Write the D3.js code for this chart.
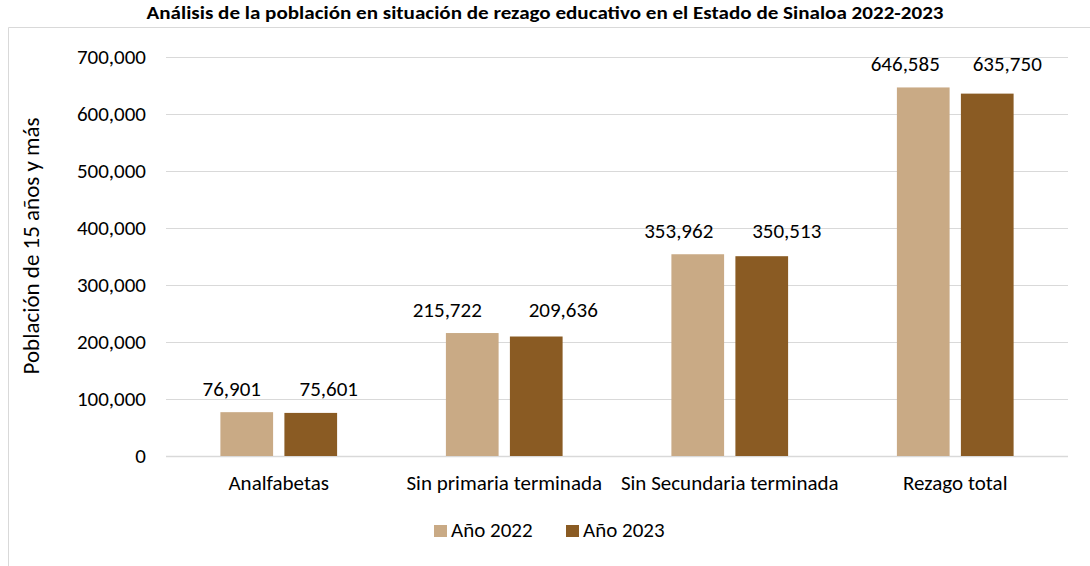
<!DOCTYPE html>
<html>
<head>
<meta charset="utf-8">
<script src="https://cdn.jsdelivr.net/npm/d3@7"></script>
<style>
  body { margin: 0; background: #fff; }
  svg { font-family: Carlito, Calibri, Lato, sans-serif; }
</style>
</head>
<body>
<div id="chart"></div>
<script>
const categories = ["Analfabetas", "Sin primaria terminada", "Sin Secundaria terminada", "Rezago total"];
const series = ["Año 2022", "Año 2023"];
const values2022 = [76901, 215722, 353962, 646585];
const values2023 = [75601, 209636, 350513, 635750];
const yTicks = [0, 100000, 200000, 300000, 400000, 500000, 600000, 700000];
const colors = ["#C9AA85", "#8A5B23"];

const width = 1090, height = 566;
const MARGIN = { top: 57, right: 22, bottom: 110, left: 166 };
const FS = "21px";
// desplazamiento horizontal de las etiquetas (movidas a mano en el original)
const labelShift = [[-15, 18], [-25, 27], [-19, 25], [-18, 20]];

const svg = d3.select("#chart").append("svg")
  .attr("width", width)
  .attr("height", height);

// marco del área del gráfico
svg.append("path")
  .attr("d", `M8.5,${height} L8.5,27.5 L${width},27.5`)
  .attr("fill", "none")
  .attr("stroke", "#d9d9d9")
  .attr("stroke-width", 1);

svg.append("text")
  .attr("x", 545)
  .attr("y", 19)
  .attr("text-anchor", "middle")
  .attr("font-weight", "bold")
  .attr("font-size", "19px")
  .attr("textLength", 797)
  .attr("lengthAdjust", "spacingAndGlyphs")
  .attr("fill", "#000")
  .text("Análisis de la población en situación de rezago educativo en el Estado de Sinaloa 2022-2023");

const x = d3.scaleBand()
  .domain(categories)
  .range([MARGIN.left, width - MARGIN.right]);

const y = d3.scaleLinear()
  .domain([0, 700000])
  .range([height - MARGIN.bottom, MARGIN.top]);

const fmt = d3.format(",");

// líneas de cuadrícula
svg.append("g")
  .selectAll("line")
  .data(yTicks)
  .join("line")
  .attr("x1", MARGIN.left)
  .attr("x2", width - MARGIN.right)
  .attr("y1", d => Math.round(y(d)) + 0.5)
  .attr("y2", d => Math.round(y(d)) + 0.5)
  .attr("stroke", "#d9d9d9")
  .attr("stroke-width", d => d === 0 ? 1.5 : 1);

svg.append("g")
  .selectAll("text")
  .data(yTicks)
  .join("text")
  .attr("x", 146)
  .attr("y", d => y(d))
  .attr("dy", "0.35em")
  .attr("text-anchor", "end")
  .attr("font-size", FS)
  .attr("fill", "#000")
  .text(d => fmt(d));

svg.append("text")
  .attr("transform", `translate(39,246) rotate(-90)`)
  .attr("text-anchor", "middle")
  .attr("font-size", "23px")
  .attr("fill", "#000")
  .text("Población de 15 años y más");

// barras
const barW = 52.7, barGap = 11.3;
const data = categories.map((c, i) => ({ cat: c, idx: i, vals: [values2022[i], values2023[i]] }));
const barCenter = i => i === 0 ? -barGap / 2 - barW / 2 : barGap / 2 + barW / 2;

const groups = svg.append("g")
  .selectAll("g")
  .data(data)
  .join("g")
  .attr("transform", d => `translate(${x(d.cat) + x.bandwidth() / 2},0)`);

groups.selectAll("rect")
  .data(d => d.vals)
  .join("rect")
  .attr("x", (d, i) => barCenter(i) - barW / 2)
  .attr("width", barW)
  .attr("y", d => y(d))
  .attr("height", d => y(0) - y(d))
  .attr("fill", (d, i) => colors[i]);

groups.selectAll("text.val")
  .data(d => d.vals.map((v, i) => ({ v, i, top: d3.max(d.vals), k: d.idx })))
  .join("text")
  .attr("class", "val")
  .attr("x", d => barCenter(d.i) + labelShift[d.k][d.i])
  .attr("y", d => y(d.top) - 16.5)
  .attr("text-anchor", "middle")
  .attr("font-size", FS)
  .attr("fill", "#000")
  .text(d => fmt(d.v));

svg.append("g")
  .selectAll("text")
  .data(categories)
  .join("text")
  .attr("x", d => x(d) + x.bandwidth() / 2)
  .attr("y", 490)
  .attr("text-anchor", "middle")
  .attr("font-size", FS)
  .attr("fill", "#000")
  .text(d => d);

// leyenda
const legendX = [434, 566];
const legend = svg.append("g")
  .selectAll("g")
  .data(series)
  .join("g")
  .attr("transform", (d, i) => `translate(${legendX[i]},525)`);

legend.append("rect")
  .attr("width", 13)
  .attr("height", 12)
  .attr("fill", (d, i) => colors[i]);

legend.append("text")
  .attr("x", 17)
  .attr("y", 12)
  .attr("font-size", FS)
  .attr("fill", "#000")
  .text(d => d);
</script>
</body>
</html>
